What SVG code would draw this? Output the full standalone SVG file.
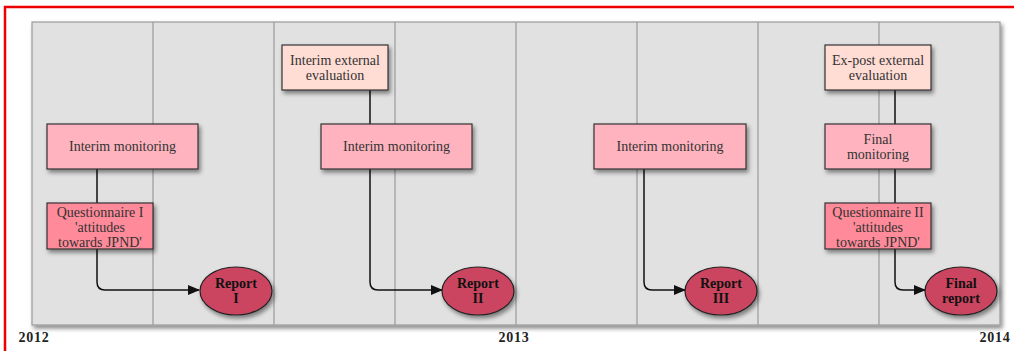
<svg xmlns="http://www.w3.org/2000/svg" width="1014" height="351" viewBox="0 0 1014 351">
<style>
text{font-family:"Liberation Serif","Times New Roman",serif;fill:#333;font-size:14px;text-anchor:middle}
.rep{font-weight:bold;fill:#111}
.year{font-weight:bold;fill:#222;font-size:14px;letter-spacing:0.8px}
.box{stroke:#333;stroke-width:1.2}
.mon{fill:#ffb3be}
.q{fill:#ff8a99}
.ev{fill:#ffddd5}
.ell{fill:#cc4560;stroke:#222;stroke-width:1.2}
.col{stroke:#9a9a9a;stroke-width:1.2}
.conn{fill:none;stroke:#111;stroke-width:1.5}
</style>
<defs>
<filter id="sh" x="-20%" y="-20%" width="150%" height="160%">
<feDropShadow dx="2" dy="3" stdDeviation="2" flood-color="#000" flood-opacity="0.45"/>
</filter>
<marker id="arr" markerWidth="12" markerHeight="10" refX="11" refY="5" orient="auto" markerUnits="userSpaceOnUse">
<path d="M0,0 L12,5 L0,10 Z" fill="#111"/>
</marker>
</defs>
<rect width="1014" height="351" fill="#fff"/>
<path d="M5,351 V7 H1014" fill="none" stroke="#e00" stroke-width="2.5"/>
<g id="panel">
<rect x="32" y="22" width="968" height="303" fill="#e1e1e1" stroke="#9a9a9a" stroke-width="1.2" filter="url(#sh)"/>
<line class="col" x1="153" y1="22" x2="153" y2="325"/>
<line class="col" x1="274" y1="22" x2="274" y2="325"/>
<line class="col" x1="395" y1="22" x2="395" y2="325"/>
<line class="col" x1="516" y1="22" x2="516" y2="325"/>
<line class="col" x1="637" y1="22" x2="637" y2="325"/>
<line class="col" x1="758" y1="22" x2="758" y2="325"/>
<line class="col" x1="879" y1="22" x2="879" y2="325"/>
</g>
<g id="connectors">
<path class="conn" d="M97,169 V282 Q97,290 105,290 H199" marker-end="url(#arr)"/>
<path class="conn" d="M370,90 V124"/>
<path class="conn" d="M370,169 V282 Q370,290 378,290 H442" marker-end="url(#arr)"/>
<path class="conn" d="M644,169 V282 Q644,290 652,290 H685" marker-end="url(#arr)"/>
<path class="conn" d="M895,90 V124 M895,169 V203"/>
<path class="conn" d="M895,249 V282 Q895,290 903,290 H925" marker-end="url(#arr)"/>
</g>
<g id="mon1"><rect class="box mon" x="47" y="124" width="151" height="45" filter="url(#sh)"/><text x="122.5" y="151">Interim monitoring</text></g>
<g id="q1"><rect class="box q" x="47" y="203" width="106" height="46" filter="url(#sh)"/><text x="100" y="217">Questionnaire I</text><text x="100" y="232">'attitudes</text><text x="100" y="247">towards JPND'</text></g>
<g id="rep1"><ellipse class="ell" cx="236" cy="291" rx="36" ry="24" filter="url(#sh)"/><text class="rep" x="236" y="288">Report</text><text class="rep" x="236" y="303">I</text></g>
<g id="ev1"><rect class="box ev" x="282" y="45" width="106" height="45" filter="url(#sh)"/><text x="335" y="65">Interim external</text><text x="335" y="80">evaluation</text></g>
<g id="mon2"><rect class="box mon" x="321" y="124" width="151" height="45" filter="url(#sh)"/><text x="396.5" y="151">Interim monitoring</text></g>
<g id="rep2"><ellipse class="ell" cx="478" cy="291" rx="36" ry="24" filter="url(#sh)"/><text class="rep" x="478" y="288">Report</text><text class="rep" x="478" y="303">II</text></g>
<g id="mon3"><rect class="box mon" x="594" y="124" width="152" height="45" filter="url(#sh)"/><text x="670" y="151">Interim monitoring</text></g>
<g id="rep3"><ellipse class="ell" cx="721" cy="291" rx="36" ry="24" filter="url(#sh)"/><text class="rep" x="721" y="288">Report</text><text class="rep" x="721" y="303">III</text></g>
<g id="ev2"><rect class="box ev" x="825" y="45" width="106" height="45" filter="url(#sh)"/><text x="878" y="65">Ex-post external</text><text x="878" y="80">evaluation</text></g>
<g id="mon4"><rect class="box mon" x="825" y="124" width="106" height="45" filter="url(#sh)"/><text x="878" y="144">Final</text><text x="878" y="159">monitoring</text></g>
<g id="q2"><rect class="box q" x="825" y="203" width="106" height="46" filter="url(#sh)"/><text x="878" y="217">Questionnaire II</text><text x="878" y="232">'attitudes</text><text x="878" y="247">towards JPND'</text></g>
<g id="rep4"><ellipse class="ell" cx="961" cy="291" rx="36" ry="24" filter="url(#sh)"/><text class="rep" x="961" y="288">Final</text><text class="rep" x="961" y="303">report</text></g>
<g id="years">
<text class="year" x="34" y="342">2012</text>
<text class="year" x="514" y="342">2013</text>
<text class="year" x="995" y="342">2014</text>
</g>
</svg>
